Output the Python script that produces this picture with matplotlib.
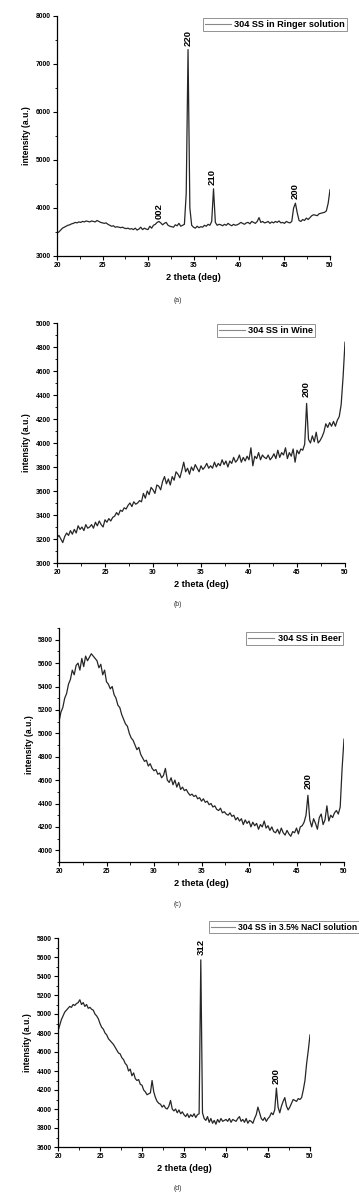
import matplotlib
matplotlib.use('Agg')
import matplotlib.pyplot as plt
from matplotlib.ticker import MultipleLocator
import numpy as np

plt.rcParams['font.family'] = ['Liberation Sans', 'DejaVu Sans']

# 2 theta grid (deg), 0.2 deg step
two_theta = np.arange(20.0, 50.001, 0.2)

# (a) 304 SS in Ringer solution
ringer = [
    3480, 3500, 3540, 3580, 3600, 3620, 3640, 3650, 3670, 3680,
    3700, 3690, 3710, 3700, 3720, 3710, 3730, 3720, 3710, 3730,
    3720, 3710, 3740, 3720, 3700, 3690, 3680, 3690, 3660, 3640,
    3620, 3630, 3600, 3610, 3600, 3590, 3600, 3580, 3570, 3580,
    3560, 3570, 3550, 3580, 3540, 3560, 3600, 3550, 3580, 3560,
    3550, 3620, 3580, 3640, 3660, 3700, 3720, 3690, 3650, 3680,
    3700, 3640, 3620, 3610, 3600, 3650, 3630, 3680, 3620, 3640,
    3660, 4300, 7300, 4000, 3640, 3600, 3580, 3620, 3590, 3610,
    3600, 3640, 3620, 3660, 3640, 3720, 4400, 3700, 3640, 3660,
    3650, 3630, 3660, 3640, 3680, 3650, 3630, 3660, 3640, 3650,
    3670, 3700, 3680, 3660, 3690, 3700, 3670, 3720, 3700, 3680,
    3720, 3800, 3700, 3720, 3690, 3700, 3720, 3680, 3710, 3690,
    3720, 3700, 3730, 3690, 3700, 3680, 3720, 3700, 3690, 3720,
    4000, 4100, 3900, 3740, 3720, 3760, 3740, 3790, 3760, 3800,
    3840, 3860, 3850, 3840, 3880, 3890, 3900, 3910, 3940, 4100,
    4380,
]

# (b) 304 SS in Wine
wine = [
    3210, 3230, 3200, 3170, 3220, 3250, 3230, 3270, 3240, 3280,
    3250, 3310, 3280, 3300, 3270, 3320, 3290, 3300, 3320, 3290,
    3340, 3310, 3350, 3320, 3300, 3360, 3340, 3370, 3350, 3380,
    3390, 3420, 3400, 3440, 3430, 3460, 3450, 3480, 3500, 3470,
    3510, 3490, 3500, 3520, 3510, 3580, 3540, 3600, 3570, 3630,
    3610, 3580, 3650, 3640, 3610, 3680, 3720, 3660, 3700, 3650,
    3720, 3690, 3760, 3740, 3710, 3770, 3840, 3760, 3790, 3740,
    3800, 3770, 3820, 3790, 3760, 3810, 3780, 3800, 3830, 3790,
    3810, 3790, 3840, 3800, 3830, 3810, 3860, 3820, 3850, 3800,
    3850, 3830, 3880, 3840, 3860, 3900, 3840, 3880, 3850, 3890,
    3860, 3960, 3810, 3890, 3870, 3920, 3860, 3900, 3880, 3870,
    3900, 3860, 3880, 3910, 3870, 3940, 3880, 3920, 3900, 3960,
    3870, 3920, 3890, 3950, 3840, 3940, 3910, 3950, 3940, 3990,
    4330, 4030, 4000, 4060, 4010, 4090, 4000, 4020, 4050, 4090,
    4160, 4130, 4170, 4140, 4180, 4140, 4190, 4220, 4320, 4550,
    4840,
]

# (c) 304 SS in Beer
beer = [
    5100, 5180, 5220, 5300, 5340, 5420, 5460, 5540, 5500, 5580,
    5600, 5540, 5640, 5570, 5660, 5620, 5650, 5680, 5660, 5640,
    5620, 5560, 5590, 5500, 5540, 5440, 5420, 5380, 5400, 5330,
    5300, 5240, 5220, 5160, 5120, 5080, 5060, 5000, 4960, 4940,
    4900, 4860, 4880, 4820, 4790, 4760, 4770, 4720, 4740, 4700,
    4680, 4690, 4650, 4660, 4620, 4640, 4700, 4600, 4580, 4620,
    4560, 4600, 4540, 4580, 4520, 4540, 4510, 4520, 4490, 4470,
    4480, 4460, 4470, 4440, 4450, 4420, 4440, 4410, 4420, 4390,
    4400, 4370, 4380, 4350, 4340, 4360, 4320, 4330, 4310, 4300,
    4320, 4290, 4300, 4260, 4280, 4250, 4270, 4220, 4260, 4230,
    4250, 4200, 4240, 4210, 4230, 4180, 4220, 4200, 4250, 4190,
    4210, 4170, 4200, 4160, 4150, 4180, 4140, 4190, 4150, 4130,
    4170, 4140, 4120, 4160, 4150, 4190, 4140, 4200, 4210, 4240,
    4300, 4470, 4260, 4200, 4270, 4230, 4180, 4280, 4310, 4220,
    4260, 4380, 4250, 4300, 4280, 4320, 4340, 4310, 4370, 4700,
    4950,
]

# (d) 304 SS in 3.5% NaCl solution
nacl = [
    4820, 4880, 4940, 4980, 5020, 5040, 5060, 5080, 5070, 5100,
    5090, 5110, 5120, 5150, 5100, 5120, 5080, 5100, 5060, 5070,
    5050, 5040, 5000, 4980, 4950, 4900, 4860, 4840, 4800, 4780,
    4740, 4720, 4700, 4680, 4650, 4620, 4590, 4580, 4540, 4520,
    4480, 4460, 4400, 4420, 4350, 4380, 4320, 4300, 4310, 4260,
    4250, 4200, 4180, 4150, 4160, 4170, 4300, 4180, 4120, 4080,
    4060, 4050, 4020, 4040, 4010, 4000, 4030, 4090, 4000, 3980,
    4000, 3960, 3990, 3950, 3970, 3940, 3920, 3950, 3910, 3940,
    3920, 3950, 3910, 3940, 3950, 5570, 3960, 3900, 3880, 3920,
    3860, 3900, 3850, 3880, 3840, 3890, 3860, 3900, 3870, 3880,
    3890, 3870, 3900, 3860, 3890, 3880, 3870, 3900, 3920, 3870,
    3890, 3860, 3900, 3850, 3880, 3870, 3850, 3900, 3940, 4020,
    3960, 3900, 3880, 3910, 3870, 3900, 3920, 3960, 3940, 3990,
    4220, 4020, 3960, 4030, 4080, 4120, 4030, 3990, 4020, 4060,
    4100, 4090, 4080, 4110, 4100, 4120, 4200, 4300, 4480, 4620,
    4780,
]

legend_labels = ['304 SS in Ringer solution', '304 SS in Wine',
                 '304 SS in Beer', '304 SS in 3.5% NaCl solution']
sub_labels = ['(a)', '(b)', '(c)', '(d)']

# peak labels: (2 theta, intensity where label starts, text)
peaks = [
    [(31.2, 3780, '002'), (34.4, 7380, '220'), (37.0, 4480, '210'), (46.2, 4180, '200')],
    [(46.0, 4380, '200')],
    [(46.2, 4520, '200')],
    [(37.0, 5620, '312'), (46.0, 4260, '200')],
]

series = [ringer, wine, beer, nacl]
ylims = [(3000, 8000), (3000, 5000), (3900, 5900), (3600, 5800)]
yticks_bottom = [3000, 3000, 4000, 3600]
yticks_top = [8000, 5000, 5800, 5800]
ymajor = [1000, 200, 200, 200]

# layout in pixels (left, right, top, bottom) on a 359x1200 canvas
W, H = 359.0, 1200.0
boxes = [(57, 330, 16, 256), (57, 345, 323, 563), (59, 344, 628, 862), (58, 310, 938, 1147)]
legend_anchor = [(347, 18), (315, 324), (343, 632), (359, 921)]
legend_size = [6.6, 6.6, 6.6, 6.2]
sub_y = [300, 605, 905, 1188]

fig = plt.figure(figsize=(W / 100, H / 100), dpi=100)

for i in range(4):
    l, r, t, b = boxes[i]
    ax = fig.add_axes([l / W, 1 - b / H, (r - l) / W, (b - t) / H])
    ax.plot(two_theta, series[i], color='#262626', lw=0.9, label=legend_labels[i])
    ax.set_xlim(20, 50)
    ax.set_ylim(*ylims[i])
    ax.set_yticks(np.arange(yticks_bottom[i], yticks_top[i] + 1, ymajor[i]))
    ax.xaxis.set_major_locator(MultipleLocator(5))
    ax.xaxis.set_minor_locator(MultipleLocator(2.5))
    ax.yaxis.set_minor_locator(MultipleLocator(ymajor[i] / 2))
    for s in ['top', 'right']:
        ax.spines[s].set_visible(False)
    for s in ['left', 'bottom']:
        ax.spines[s].set_linewidth(0.9)
    ax.tick_params(which='major', length=3, width=0.8, labelsize=4.9, pad=1.5)
    ax.tick_params(which='minor', length=1.8, width=0.6)
    for lab in ax.get_xticklabels() + ax.get_yticklabels():
        lab.set_fontweight('bold')
    ax.set_xlabel('2 theta (deg)', fontsize=6.6, fontweight='bold', labelpad=3)
    ax.set_ylabel('intensity (a.u.)', fontsize=6.2, fontweight='bold', labelpad=3)

    for px, py, txt in peaks[i]:
        ax.text(px, py, txt, rotation=90, ha='center', va='bottom',
                fontsize=6.8, fontweight='bold')

    ax_, ay_ = legend_anchor[i]
    leg = ax.legend(loc='upper right', bbox_to_anchor=(ax_ / W, 1 - ay_ / H),
                    bbox_transform=fig.transFigure,
                    prop={'weight': 'bold', 'size': legend_size[i]},
                    frameon=True, fancybox=False, handlelength=2.8,
                    borderpad=0.2, handletextpad=0.4, borderaxespad=0)
    leg.get_frame().set_edgecolor('#777777')
    leg.get_frame().set_linewidth(0.7)
    for ln in leg.get_lines():
        ln.set_color('#888888')
        ln.set_linewidth(0.8)

    fig.text(178 / W, 1 - sub_y[i] / H, sub_labels[i], ha='center', va='center',
             fontsize=5.0, color='#333333')

fig.savefig('out.png', dpi=100)
